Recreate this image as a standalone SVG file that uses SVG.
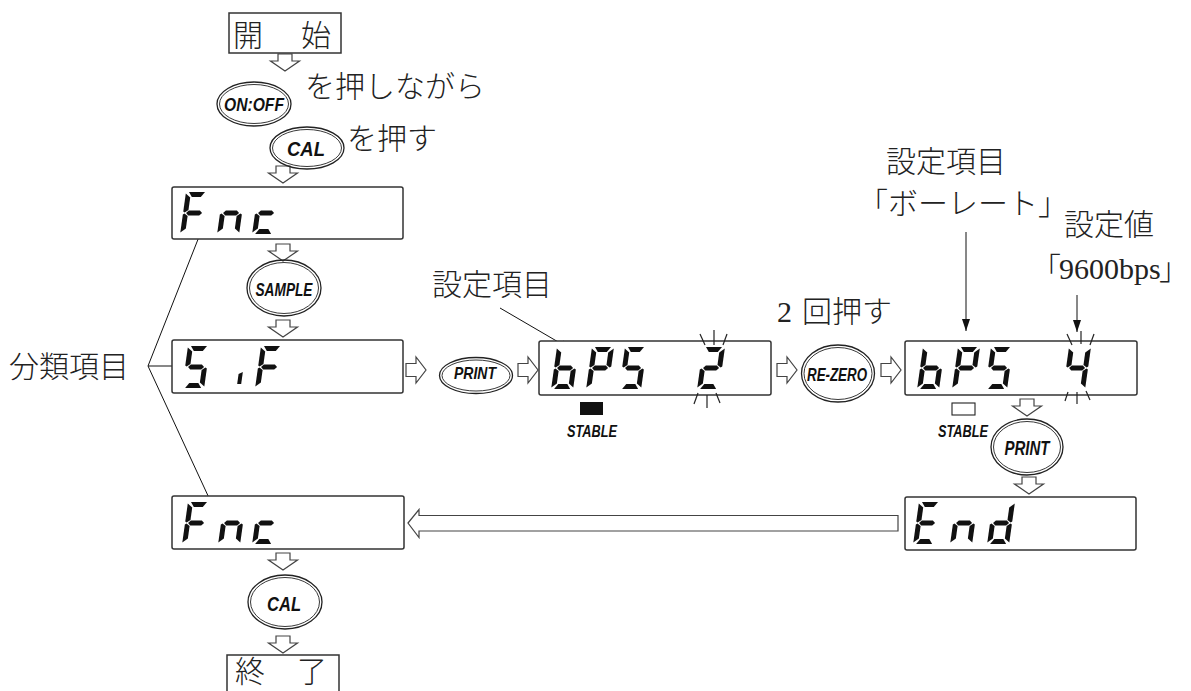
<svg xmlns="http://www.w3.org/2000/svg" width="1191" height="691" viewBox="0 0 1191 691">
<style>
.box{fill:#fff;stroke:#333;stroke-width:1.5}
.seg{fill:#111}
.arr{fill:#fff;stroke:#444;stroke-width:1.2}
.btn{fill:none;stroke:#222;stroke-width:1.3}
.btn2{fill:none;stroke:#222;stroke-width:0.9}
.bt{font-family:"Liberation Sans",Arial,sans-serif;font-weight:bold;font-style:italic;text-anchor:middle;fill:#111}
.jp{font-family:"Noto Sans CJK JP",sans-serif;font-size:30px;fill:#222;font-weight:300}
.ser{font-family:"Liberation Serif","Times New Roman",serif;font-size:30px;fill:#222}
.lead{stroke:#111;stroke-width:1;fill:none}
.fl{stroke:#222;stroke-width:1.2}
</style>
<defs>
<marker id="ah" markerUnits="userSpaceOnUse" markerWidth="14" markerHeight="9" refX="12" refY="4" orient="auto" overflow="visible"><path d="M0,0 L12,4 L0,8 z" fill="#111"/></marker>
<polygon id="sa" class="seg" points="3,0 19,0 15.5,5 6.5,5"/>
<polygon id="sb" class="seg" points="22,1.5 22,19.5 20.5,20.5 17,18 17,5.5"/>
<polygon id="sc" class="seg" points="22,22.5 22,40.5 17,36.5 17,24 20.5,21.5"/>
<polygon id="sd" class="seg" points="6.5,37 15.5,37 19,42 3,42"/>
<polygon id="se" class="seg" points="0,22.5 1.5,21.5 5,24 5,36.5 0,40.5"/>
<polygon id="sf" class="seg" points="0,1.5 5,5.5 5,18 1.5,20.5 0,19.5"/>
<polygon id="sg" class="seg" points="3,21 5.5,18.6 16.5,18.6 19,21 16.5,23.4 5.5,23.4"/>
<polygon id="si" class="seg" points="21.5,26 21.5,38 17.5,38 17.5,28"/>
<g id="dF" transform="skewX(-8)"><use href="#sa"/><use href="#sf"/><use href="#se"/><use href="#sg"/></g>
<g id="dn" transform="skewX(-8)"><use href="#sc"/><use href="#se"/><use href="#sg"/></g>
<g id="dc" transform="skewX(-8)"><use href="#sd"/><use href="#se"/><use href="#sg"/></g>
<g id="dS" transform="skewX(-8)"><use href="#sa"/><use href="#sf"/><use href="#sg"/><use href="#sc"/><use href="#sd"/></g>
<g id="di" transform="skewX(-8)"><use href="#si"/></g>
<g id="db" transform="skewX(-8)"><use href="#sf"/><use href="#se"/><use href="#sg"/><use href="#sc"/><use href="#sd"/></g>
<g id="dP" transform="skewX(-8)"><use href="#sa"/><use href="#sb"/><use href="#sf"/><use href="#sg"/><use href="#se"/></g>
<g id="d2" transform="skewX(-8)"><use href="#sa"/><use href="#sb"/><use href="#sg"/><use href="#se"/><use href="#sd"/></g>
<g id="d4" transform="skewX(-8)"><use href="#sf"/><use href="#sg"/><use href="#sb"/><use href="#sc"/></g>
<g id="dE" transform="skewX(-8)"><use href="#sa"/><use href="#sf"/><use href="#sg"/><use href="#se"/><use href="#sd"/></g>
<g id="dd" transform="skewX(-8)"><use href="#sb"/><use href="#sc"/><use href="#sg"/><use href="#se"/><use href="#sd"/></g>
<polygon id="down" class="arr" points="-7,0 7,0 7,7 14.5,7 0,17 -14.5,7 -7,7"/>
<polygon id="right" class="arr" points="0,-6.5 10,-6.5 10,-13 20,0 10,13 10,6.5 0,6.5"/>
</defs>

<g id="connectors">
<use href="#down" x="285" y="54"/>
<use href="#down" x="283" y="166"/>
<use href="#down" x="283" y="244"/>
<use href="#down" x="283" y="320"/>
<use href="#down" x="283" y="553"/>
<use href="#down" x="283" y="636"/>
<use href="#down" x="1027" y="399"/>
<use href="#down" x="1029" y="477"/>
<use href="#right" x="406" y="370"/>
<use href="#right" x="518" y="370"/>
<use href="#right" x="777" y="370"/>
<use href="#right" x="881" y="370"/>
<polygon class="arr" points="408,523 419,509.5 419,515.5 898,515.5 898,531 419,531 419,537.5"/>
<line class="lead" marker-end="url(#ah)" x1="148" y1="366" x2="208" y2="214"/>
<line class="lead" marker-end="url(#ah)" x1="148" y1="366" x2="187" y2="366"/>
<line class="lead" marker-end="url(#ah)" x1="148" y1="366" x2="216" y2="513"/>
<line class="lead" marker-end="url(#ah)" x1="500" y1="308" x2="572" y2="350"/>
<line class="lead" marker-end="url(#ah)" x1="966" y1="232" x2="966" y2="331"/>
<line class="lead" marker-end="url(#ah)" x1="1077" y1="295" x2="1077" y2="332"/>
</g>

<g id="start">
<rect class="box" x="229" y="13" width="112" height="40"/>
<text class="jp" x="233 267 301" y="46">開　始</text>
</g>

<g id="btn-onoff">
<ellipse class="btn" cx="254" cy="104" rx="37" ry="22"/>
<ellipse class="btn2" cx="254" cy="104" rx="34.5" ry="19.5"/>
<text class="bt" x="254" y="111" font-size="19" textLength="60" lengthAdjust="spacingAndGlyphs">ON:OFF</text>
</g>
<text id="lbl-press-hold" class="jp" x="305" y="97">を押しながら</text>

<g id="btn-cal1">
<ellipse class="btn" cx="307" cy="148" rx="37" ry="21"/>
<ellipse class="btn2" cx="307" cy="148" rx="34.5" ry="18.5"/>
<text class="bt" x="306" y="156" font-size="21" textLength="38" lengthAdjust="spacingAndGlyphs">CAL</text>
</g>
<text id="lbl-press" class="jp" x="347" y="149" font-size="31">を押す</text>

<g id="disp-fnc1">
<rect class="box" x="172" y="187" width="231" height="52" rx="2"/>
<use href="#dF" x="186" y="192"/>
<use href="#dn" x="223" y="192"/>
<use href="#dc" x="258" y="192"/>
</g>

<g id="btn-sample">
<ellipse class="btn" cx="284" cy="288" rx="37" ry="28"/>
<ellipse class="btn2" cx="284" cy="288" rx="34.5" ry="25.5"/>
<text class="bt" x="284" y="296" font-size="19" textLength="57" lengthAdjust="spacingAndGlyphs">SAMPLE</text>
</g>

<g id="disp-sif">
<rect class="box" x="172" y="340" width="231" height="53" rx="2"/>
<use href="#dS" x="188" y="346"/>
<use href="#di" x="225" y="346"/>
<use href="#dF" x="261" y="346"/>
</g>

<text id="lbl-class" class="jp" x="9" y="377">分類項目</text>

<g id="btn-print1">
<ellipse class="btn" cx="476" cy="375.5" rx="36.5" ry="18"/>
<ellipse class="btn2" cx="476" cy="375.5" rx="34" ry="15.5"/>
<text class="bt" x="475" y="379" font-size="17" textLength="42" lengthAdjust="spacingAndGlyphs">PRINT</text>
</g>

<text id="lbl-item1" class="jp" x="432" y="295">設定項目</text>

<g id="disp-bps2">
<rect class="box" x="539" y="341" width="232" height="54" rx="2"/>
<use href="#db" x="557" y="347"/>
<use href="#dP" x="592" y="347"/>
<use href="#dS" x="625" y="347"/>
<use href="#d2" x="703" y="347"/>
<line class="fl" x1="700" y1="334" x2="705" y2="345"/>
<line class="fl" x1="714" y1="330" x2="714" y2="345"/>
<line class="fl" x1="727" y1="334" x2="723" y2="345"/>
<line class="fl" x1="698" y1="393" x2="694" y2="404"/>
<line class="fl" x1="707" y1="395" x2="707" y2="408"/>
<line class="fl" x1="716" y1="393" x2="720" y2="403"/>
<rect x="580" y="402" width="23" height="13" fill="#111"/>
<text class="bt" x="592" y="437" font-size="17" textLength="50" lengthAdjust="spacingAndGlyphs">STABLE</text>
</g>

<text id="lbl-twice" y="322"><tspan class="ser" x="777">2</tspan><tspan class="jp" x="802" font-size="31">回押す</tspan></text>

<g id="btn-rezero">
<ellipse class="btn" cx="838" cy="373.5" rx="36.5" ry="28.5"/>
<ellipse class="btn2" cx="838" cy="373.5" rx="34" ry="26"/>
<text class="bt" x="837" y="381" font-size="19" textLength="60" lengthAdjust="spacingAndGlyphs">RE-ZERO</text>
</g>

<text id="lbl-item2a" class="jp" x="886" y="172">設定項目</text>
<text id="lbl-item2b" class="jp" x="858" y="214">「ボーレート」</text>
<text id="lbl-value" class="jp" x="1064" y="235" font-size="31">設定値</text>
<text id="lbl-value2" y="279"><tspan class="jp" x="1031">「</tspan><tspan class="ser" x="1059" font-size="29">9600bps</tspan><tspan class="jp" x="1159" font-size="27">」</tspan></text>

<g id="disp-bps4">
<rect class="box" x="905" y="341" width="232" height="54" rx="2"/>
<use href="#db" x="923" y="347"/>
<use href="#dP" x="958" y="347"/>
<use href="#dS" x="991" y="347"/>
<use href="#d4" x="1069" y="347"/>
<line class="fl" x1="1067" y1="334" x2="1072" y2="345"/>
<line class="fl" x1="1081" y1="331" x2="1081" y2="344"/>
<line class="fl" x1="1094" y1="334" x2="1090" y2="345"/>
<line class="fl" x1="1068" y1="392" x2="1065" y2="401"/>
<line class="fl" x1="1077" y1="392" x2="1077" y2="404"/>
<line class="fl" x1="1086" y1="391" x2="1090" y2="400"/>
<rect x="952" y="403" width="23" height="12" fill="#fff" stroke="#222" stroke-width="1.1"/>
<text class="bt" x="963" y="437" font-size="17" textLength="50" lengthAdjust="spacingAndGlyphs">STABLE</text>
</g>

<g id="btn-print2">
<ellipse class="btn" cx="1027" cy="447" rx="36" ry="28"/>
<ellipse class="btn2" cx="1027" cy="447" rx="33.5" ry="25.5"/>
<text class="bt" x="1027" y="455" font-size="20" textLength="45" lengthAdjust="spacingAndGlyphs">PRINT</text>
</g>

<g id="disp-end">
<rect class="box" x="905" y="497" width="231" height="53" rx="2"/>
<use href="#dE" x="919" y="502"/>
<use href="#dn" x="956" y="502"/>
<use href="#dd" x="993" y="502"/>
</g>

<g id="disp-fnc2">
<rect class="box" x="172" y="496" width="232" height="53" rx="2"/>
<use href="#dF" x="188" y="502"/>
<use href="#dn" x="224" y="502"/>
<use href="#dc" x="258" y="502"/>
</g>

<g id="btn-cal2">
<ellipse class="btn" cx="285" cy="602" rx="37" ry="27"/>
<ellipse class="btn2" cx="285" cy="602" rx="34.5" ry="24.5"/>
<text class="bt" x="284" y="611" font-size="20" textLength="34" lengthAdjust="spacingAndGlyphs">CAL</text>
</g>

<g id="end">
<path d="M227,691 V655 H339 V691" fill="#fff" stroke="#333" stroke-width="1.5"/>
<text class="jp" x="235 266 297" y="682" font-size="28">終　了</text>
</g>
</svg>
